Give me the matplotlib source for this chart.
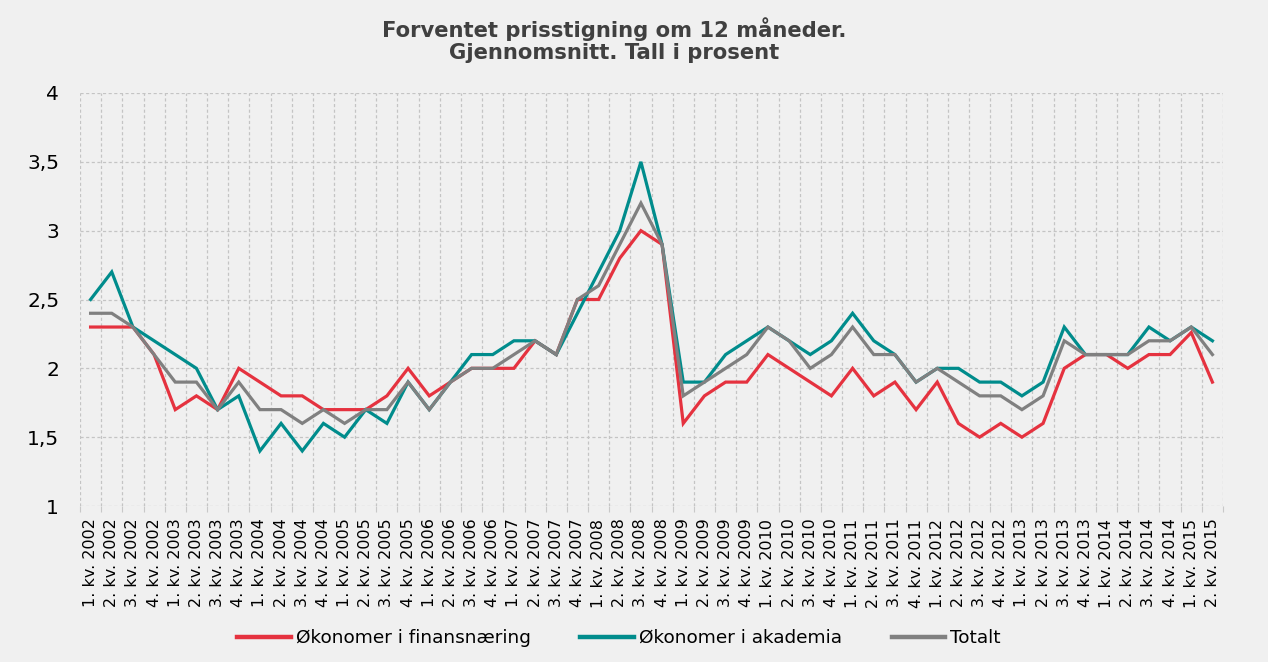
import matplotlib
matplotlib.use("Agg")
import matplotlib.pyplot as plt
import numpy as np

quarters = ["1. kv.", "2. kv.", "3. kv.", "4. kv."]
years = list(range(2002, 2016))
labels = [f"{q} {y}" for y in years for q in quarters][:54]

finans = [2.3, 2.3, 2.3, 2.1, 1.7, 1.8, 1.7, 2.0, 1.9, 1.8, 1.8, 1.7,
          1.7, 1.7, 1.8, 2.0, 1.8, 1.9, 2.0, 2.0, 2.0, 2.2, 2.1, 2.5,
          2.5, 2.8, 3.0, 2.9, 1.6, 1.8, 1.9, 1.9, 2.1, 2.0, 1.9, 1.8,
          2.0, 1.8, 1.9, 1.7, 1.9, 1.6, 1.5, 1.6, 1.5, 1.6, 2.0, 2.1,
          2.1, 2.0, 2.1, 2.1, 2.26, 1.9]
akademia = [2.5, 2.7, 2.3, 2.2, 2.1, 2.0, 1.7, 1.8, 1.4, 1.6, 1.4, 1.6,
            1.5, 1.7, 1.6, 1.9, 1.7, 1.9, 2.1, 2.1, 2.2, 2.2, 2.1, 2.4,
            2.7, 3.0, 3.5, 2.9, 1.9, 1.9, 2.1, 2.2, 2.3, 2.2, 2.1, 2.2,
            2.4, 2.2, 2.1, 1.9, 2.0, 2.0, 1.9, 1.9, 1.8, 1.9, 2.3, 2.1,
            2.1, 2.1, 2.3, 2.2, 2.3, 2.2]
totalt = [2.4, 2.4, 2.3, 2.1, 1.9, 1.9, 1.7, 1.9, 1.7, 1.7, 1.6, 1.7,
          1.6, 1.7, 1.7, 1.9, 1.7, 1.9, 2.0, 2.0, 2.1, 2.2, 2.1, 2.5,
          2.6, 2.9, 3.2, 2.9, 1.8, 1.9, 2.0, 2.1, 2.3, 2.2, 2.0, 2.1,
          2.3, 2.1, 2.1, 1.9, 2.0, 1.9, 1.8, 1.8, 1.7, 1.8, 2.2, 2.1,
          2.1, 2.1, 2.2, 2.2, 2.3, 2.1]

series_names = ["Økonomer i finansnæring", "Økonomer i akademia", "Totalt"]
colors = ["#E5323F", "#008C8C", "#808080"]

bg = "#F0F0F0"
fig = plt.figure(figsize=(12.68, 6.62), dpi=100, facecolor=bg)
ax = fig.add_axes([80/1268, 1 - 506/662, (1223-80)/1268, (506-93)/662])
ax.set_facecolor(bg)

x = np.arange(len(labels))
for vals, name, c in zip([finans, akademia, totalt], series_names, colors):
    ax.plot(x, vals, color=c, lw=2.3, label=name, solid_joinstyle="miter")

ax.set_xlim(-0.5, len(labels) - 0.5)
ax.set_ylim(1, 4)
ax.set_yticks(np.arange(1, 4.01, 0.5))
ax.set_yticklabels(["1", "1,5", "2", "2,5", "3", "3,5", "4"], fontsize=14.5, color="#000000")
ax.set_xticks(x)
ax.set_xticklabels(labels, rotation=90, fontsize=11.5, color="#000000")
ax.set_xticks(np.arange(-0.5, len(labels), 1), minor=True)
ax.tick_params(axis="x", which="major", length=0, pad=9)
ax.tick_params(axis="x", which="minor", length=4, color="#C8C8C8", width=0.8)
ax.tick_params(axis="y", length=0, pad=15)

for s in ax.spines.values():
    s.set_visible(False)

grid_kw = dict(color="#C4C4C4", lw=0.9, ls=(0, (2.5, 2)), zorder=0)
for yv in np.arange(1, 4.01, 0.5):
    ax.axhline(yv, **grid_kw)
for xv in np.arange(-0.5, len(labels), 1):
    ax.axvline(xv, **grid_kw)

fig.text(614/1268, 1 - 40/662, "Forventet prisstigning om 12 måneder.\nGjennomsnitt. Tall i prosent",
         ha="center", va="center", fontsize=15.2, fontweight="bold", color="#404040",
         linespacing=1.1)

leg = fig.legend(loc="center", bbox_to_anchor=(619/1268, 1 - 638/662), ncol=3, frameon=False,
                 fontsize=13.3, handlelength=2.9, handletextpad=0.27, columnspacing=2.7)
for line in leg.get_lines():
    line.set_linewidth(3.2)

fig.savefig("out.png", dpi=100, facecolor=bg)
